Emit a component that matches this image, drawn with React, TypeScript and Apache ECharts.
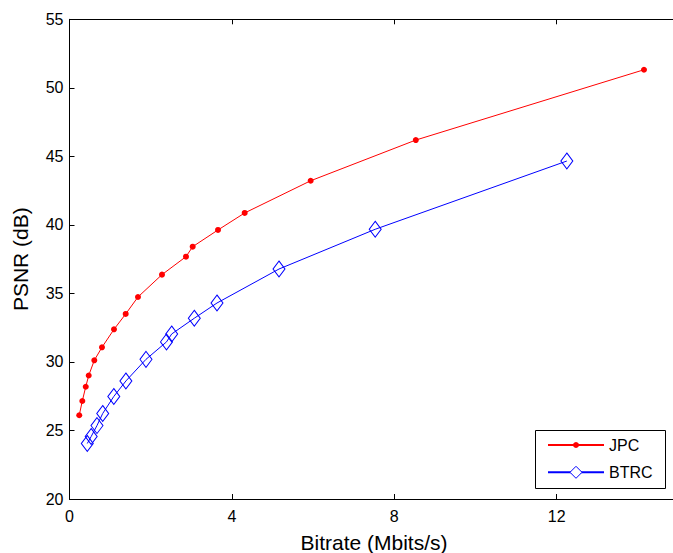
import React, { useEffect, useRef } from "react";
import * as echarts from "echarts";

const jpcBitrate = [0.24, 0.315, 0.4, 0.473, 0.611, 0.8, 1.096, 1.384, 1.687, 2.278, 2.869, 3.034, 3.658, 4.315, 5.94, 8.53, 14.15];
const jpcPsnr = [26.11, 27.15, 28.19, 29.01, 30.12, 31.07, 32.38, 33.5, 34.74, 36.37, 37.68, 38.41, 39.63, 40.87, 43.22, 46.19, 51.32];
const btrcBitrate = [0.438, 0.534, 0.677, 0.818, 1.091, 1.389, 1.884, 2.389, 2.517, 3.074, 3.633, 5.16, 7.53, 12.25];
const btrcPsnr = [24.05, 24.56, 25.36, 26.24, 27.48, 28.61, 30.19, 31.46, 32.04, 33.19, 34.3, 36.78, 39.68, 44.66];

const seriesNames = ["JPC", "BTRC"];
const xTitle = "Bitrate (Mbits/s)";
const yTitle = "PSNR (dB)";

export default function App() {
  const ref = useRef<HTMLDivElement>(null);
  useEffect(() => {
    if (!ref.current) return;
    const chart = echarts.init(ref.current, null, { renderer: "svg" });
    const font = "Liberation Sans, Arial, sans-serif";
    const axisCommon = {
      type: "value" as const,
      axisLine: { show: true, onZero: false, lineStyle: { color: "#000", width: 1 } },
      axisTick: { show: true, inside: true, length: 5, lineStyle: { color: "#000" } },
      splitLine: { show: false },
    };
    const legendCommon = {
      orient: "vertical" as const,
      left: 547,
      padding: 0,
      itemWidth: 56,
      textStyle: { fontFamily: font, fontSize: 16, color: "#000" },
    };
    chart.setOption({
      animation: false,
      backgroundColor: "#fff",
      grid: {
        left: 69.5,
        top: 19.3,
        right: -5.5,
        bottom: 54,
        containLabel: false,
        outerBoundsMode: "none",
      },
      xAxis: [
        {
          ...axisCommon,
          position: "bottom",
          min: 0,
          max: 15,
          interval: 4,
          name: xTitle,
          nameLocation: "middle",
          nameGap: 33,
          nameTextStyle: { fontFamily: font, fontSize: 21, color: "#000" },
          axisLabel: {
            fontFamily: font,
            fontSize: 16,
            color: "#000",
            margin: 9,
            formatter: (v: number) => (v % 4 === 0 ? String(v) : ""),
          },
        },
        {
          ...axisCommon,
          position: "top",
          min: 0,
          max: 15,
          interval: 4,
          axisLabel: { show: false },
        },
      ],
      yAxis: [
        {
          ...axisCommon,
          position: "left",
          min: 20,
          max: 55,
          interval: 5,
          name: yTitle,
          nameLocation: "middle",
          nameGap: 38.5,
          nameTextStyle: { fontFamily: font, fontSize: 21, color: "#000" },
          axisLabel: { fontFamily: font, fontSize: 16, color: "#000", margin: 6 },
        },
        {
          ...axisCommon,
          position: "right",
          min: 20,
          max: 55,
          interval: 5,
          axisLabel: { show: false },
        },
      ],
      graphic: [
        {
          type: "rect",
          z: 3,
          shape: { x: 535.5, y: 430.5, width: 130, height: 58 },
          style: { fill: "#fff", stroke: "#000", lineWidth: 1 },
        },
      ],
      legend: [
        { ...legendCommon, top: 437, itemHeight: 7.5, data: [seriesNames[0]] },
        {
          ...legendCommon,
          top: 464.3,
          itemHeight: 15,
          itemStyle: { color: "#fff", borderColor: "#0000ff", borderWidth: 1 },
          data: [seriesNames[1]],
        },
      ],
      series: [
        {
          name: seriesNames[0],
          type: "line",
          data: jpcBitrate.map((x, i) => [x, jpcPsnr[i]]),
          symbol: "circle",
          symbolSize: 6,
          lineStyle: { color: "#ff0000", width: 1 },
          itemStyle: { color: "#ff0000" },
        },
        {
          name: seriesNames[1],
          type: "line",
          data: btrcBitrate.map((x, i) => [x, btrcPsnr[i]]),
          symbol: "diamond",
          symbolSize: [12, 16],
          lineStyle: { color: "#0000ff", width: 1 },
          itemStyle: { color: "rgba(255,255,255,0)", borderColor: "#0000ff", borderWidth: 1 },
        },
      ],
    });
    return () => chart.dispose();
  }, []);
  return (
    <div
      ref={ref}
      style={{ position: "fixed", left: 0, top: 0, width: 673, height: 553, background: "#fff" }}
    />
  );
}
